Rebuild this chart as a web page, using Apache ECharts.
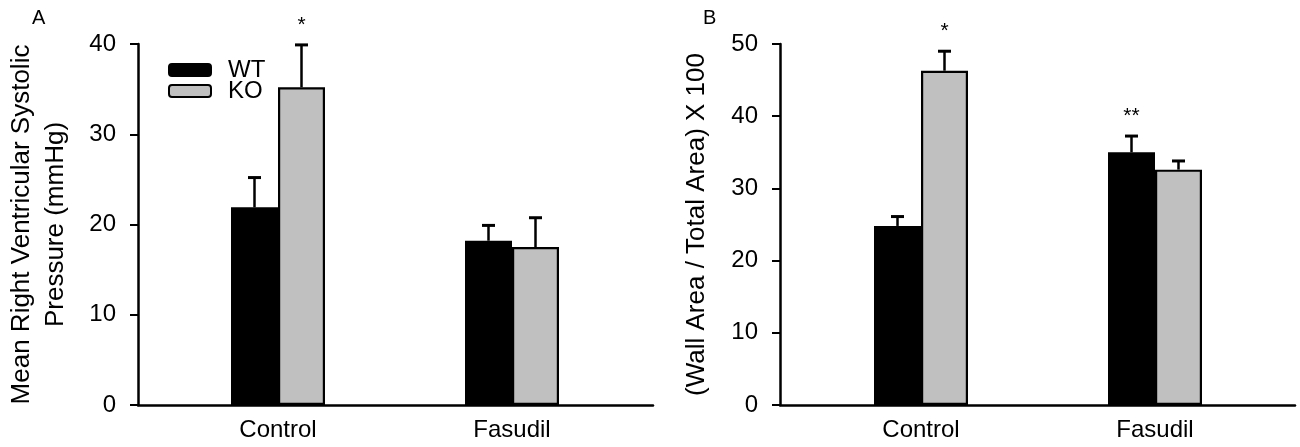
<!DOCTYPE html>
<html>
<head>
<meta charset="utf-8">
<script src="https://cdn.jsdelivr.net/npm/echarts@6/dist/echarts.min.js"></script>
<style>
html,body{margin:0;padding:0;background:#fff;}
#chart{width:1300px;height:447px;}
</style>
</head>
<body>
<div id="chart"></div>
<script>
// ---- data ----
var categories = ['Control', 'Fasudil'];
var seriesNames = ['WT', 'KO'];

// Panel A: Mean Right Ventricular Systolic Pressure (mmHg)
var wtA = [21.9, 18.2];
var wtAErr = [3.3, 1.7];
var koA = [35.2, 17.5];
var koAErr = [4.7, 3.25];
var wtASig = ['', ''];
var koASig = ['*', ''];
var yTicksA = [0, 10, 20, 30, 40];

// Panel B: (Wall Area / Total Area) X 100
var wtB = [24.8, 35.0];
var wtBErr = [1.3, 2.25];
var koB = [46.3, 32.6];
var koBErr = [2.7, 1.2];
var wtBSig = ['', '**'];
var koBSig = ['*', ''];
var yTicksB = [0, 10, 20, 30, 40, 50];

var titleA = 'Mean Right Ventricular Systolic\nPressure (mmHg)';
var titleB = '(Wall Area / Total Area) X 100';

// ---- styles ----
var FONT = 'Liberation Sans, Arial, sans-serif';
var GRAY = '#c0c0c0';
var BAR_W = 47;

function errData(vals, errs, sigs) {
  return vals.map(function (v, i) { return [i, v, errs[i], sigs[i]]; });
}

function errSeries(name, xi, yi, vals, errs, sigs, side) {
  return {
    type: 'custom',
    name: name,
    xAxisIndex: xi,
    yAxisIndex: yi,
    z: 5,
    silent: true,
    data: errData(vals, errs, sigs),
    renderItem: function (params, api) {
      var idx = api.value(0);
      var mean = api.value(1);
      var err = api.value(2);
      var sig = sigs[params.dataIndex];
      var base = api.coord([idx, mean]);
      var top = api.coord([idx, mean + err]);
      var x = base[0] + side * BAR_W / 2;
      var children = [
        { type: 'line', shape: { x1: x, y1: base[1], x2: x, y2: top[1] },
          style: { stroke: '#000', lineWidth: 2.5 } },
        { type: 'line', shape: { x1: x - 6.5, y1: top[1], x2: x + 6.5, y2: top[1] },
          style: { stroke: '#000', lineWidth: 3 } }
      ];
      if (sig) {
        children.push({ type: 'text', x: x, y: top[1] - 20,
          style: { text: sig, fill: '#000', font: '21px ' + FONT, align: 'center', verticalAlign: 'middle' } });
      }
      return { type: 'group', children: children };
    }
  };
}

function yAxisDef(grid, max, title, offset, gap) {
  return {
    type: 'value', gridIndex: grid, min: 0, max: max, interval: 10,
    offset: offset,
    name: title, nameLocation: 'middle', nameRotate: 90, nameGap: gap,
    nameTextStyle: { fontFamily: FONT, fontSize: 26, color: '#000', lineHeight: 34 },
    axisLine: { show: true, lineStyle: { color: '#000', width: 2.5 } },
    axisTick: { show: true, inside: false, length: 8, lineStyle: { color: '#000', width: 2 } },
    axisLabel: { margin: 22, fontFamily: FONT, fontSize: 24, color: '#000' },
    splitLine: { show: false }
  };
}

function legendDef(name, top) {
  return {
    data: [name],
    orient: 'vertical', left: 168, top: top,
    itemWidth: 42, itemHeight: 12,
    icon: 'roundRect',
    selectedMode: false,
    padding: 0,
    textStyle: { fontFamily: FONT, fontSize: 24, color: '#000', padding: [0, 0, 0, 12] }
  };
}

var chart = echarts.init(document.getElementById('chart'));
chart.setOption({
  backgroundColor: '#fff',
  animation: false,
  title: [
    { text: 'A', left: 32, top: 8, padding: 0, textStyle: { fontFamily: FONT, fontSize: 20, fontWeight: 'normal', color: '#000' } },
    { text: 'B', left: 703, top: 8, padding: 0, textStyle: { fontFamily: FONT, fontSize: 20, fontWeight: 'normal', color: '#000' } }
  ],
  legend: [legendDef('WT', 58), legendDef('KO', 79)],
  grid: [
    { left: 161, top: 44, width: 468, height: 361 },  // A bars
    { left: 138, top: 44, width: 515, height: 361 },  // A axis frame
    { left: 804, top: 44, width: 468, height: 361 },  // B bars
    { left: 780, top: 44, width: 515, height: 361 }   // B axis frame
  ],
  xAxis: [
    { type: 'category', gridIndex: 0, data: categories,
      axisLine: { show: false }, axisTick: { show: false },
      axisLabel: { margin: 13, fontFamily: FONT, fontSize: 24, color: '#000' } },
    { type: 'value', gridIndex: 1, min: 0, max: 1,
      axisLine: { show: true, onZero: false, lineStyle: { color: '#000', width: 2.5 } },
      axisTick: { show: false }, axisLabel: { show: false }, splitLine: { show: false } },
    { type: 'category', gridIndex: 2, data: categories,
      axisLine: { show: false }, axisTick: { show: false },
      axisLabel: { margin: 13, fontFamily: FONT, fontSize: 24, color: '#000' } },
    { type: 'value', gridIndex: 3, min: 0, max: 1,
      axisLine: { show: true, onZero: false, lineStyle: { color: '#000', width: 2.5 } },
      axisTick: { show: false }, axisLabel: { show: false }, splitLine: { show: false } }
  ],
  yAxis: [
    yAxisDef(0, 40, titleA, 23, 65),
    { type: 'value', gridIndex: 1, min: 0, max: 1, show: false },
    yAxisDef(2, 50, titleB, 24, 66),
    { type: 'value', gridIndex: 3, min: 0, max: 1, show: false }
  ],
  series: [
    { type: 'bar', name: 'WT', xAxisIndex: 0, yAxisIndex: 0, data: wtA, barWidth: BAR_W, barGap: '0%',
      itemStyle: { color: '#000', borderColor: '#000', borderWidth: 2 } },
    { type: 'bar', name: 'KO', xAxisIndex: 0, yAxisIndex: 0, data: koA, barWidth: BAR_W, barGap: '0%',
      itemStyle: { color: GRAY, borderColor: '#000', borderWidth: 2.2 } },
    errSeries('WT', 0, 0, wtA, wtAErr, wtASig, -1),
    errSeries('KO', 0, 0, koA, koAErr, koASig, 1),
    { type: 'bar', name: 'WT', xAxisIndex: 2, yAxisIndex: 2, data: wtB, barWidth: BAR_W, barGap: '0%',
      itemStyle: { color: '#000', borderColor: '#000', borderWidth: 2 } },
    { type: 'bar', name: 'KO', xAxisIndex: 2, yAxisIndex: 2, data: koB, barWidth: BAR_W, barGap: '0%',
      itemStyle: { color: GRAY, borderColor: '#000', borderWidth: 2.2 } },
    errSeries('WT', 2, 2, wtB, wtBErr, wtBSig, -1),
    errSeries('KO', 2, 2, koB, koBErr, koBSig, 1)
  ]
});
</script>
</body>
</html>
